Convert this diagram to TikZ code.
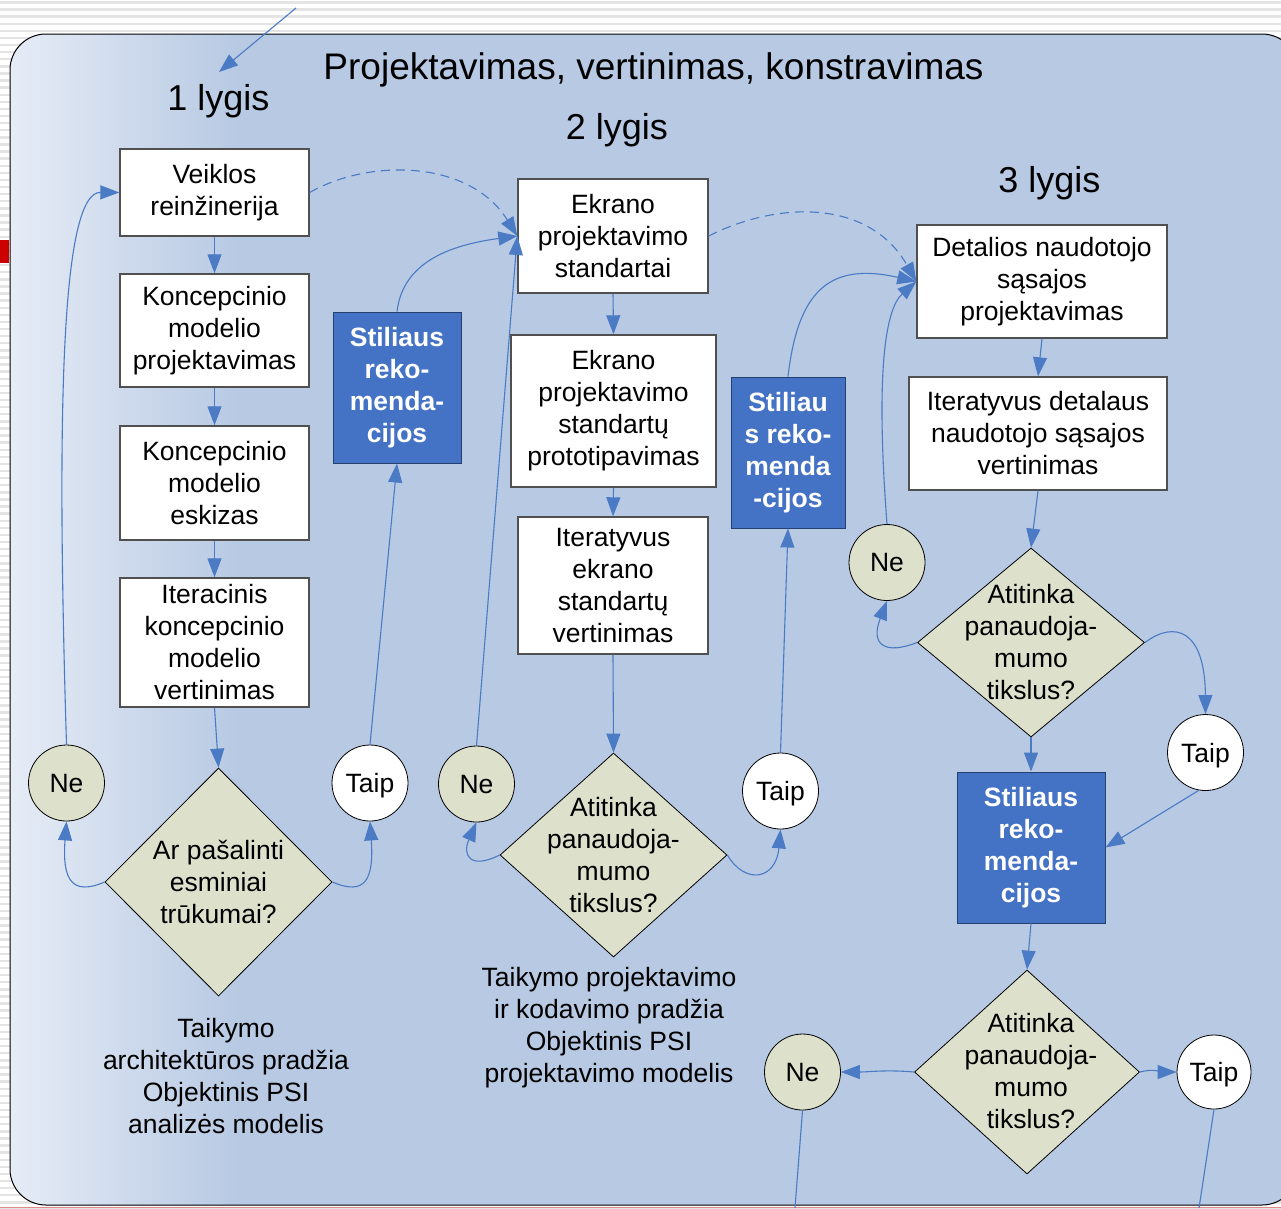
\documentclass[tikz,border=0pt]{standalone}
\usepackage{fontspec}
\setmainfont{Liberation Sans}
\usetikzlibrary{arrows.meta,shapes.geometric}

\definecolor{bgblue}{HTML}{B7C9E3}
\definecolor{bglight}{HTML}{E6ECF6}
\definecolor{stripegray}{HTML}{E4E4E4}
\definecolor{linecol}{HTML}{4A7BC4}
\definecolor{bluefill}{HTML}{4472C4}
\definecolor{bluedark}{HTML}{24406E}
\definecolor{olivefill}{HTML}{DDE1CC}
\definecolor{boxline}{HTML}{505050}
\definecolor{redmark}{HTML}{CC0000}
\definecolor{pinkline}{HTML}{E08A8A}

\newcommand{\fs}{\fontsize{26.5}{32}\selectfont}
\newcommand{\fb}{\fontsize{36}{40}\selectfont}

\begin{document}
\begin{tikzpicture}[x=1pt,y=-1pt,
  box/.style={draw=boxline, line width=1.4, fill=white, align=center, inner sep=0, font=\fs},
  bluebox/.style={draw=bluedark, line width=1, fill=bluefill, text=white, align=center, inner sep=0, font=\fs\bfseries},
  dia/.style={diamond, draw=black, line width=0.8, fill=olivefill, inner sep=0},
  dtext/.style={align=center, inner sep=0, font=\fs},
  nebubble/.style={circle, draw=black, line width=0.8, fill=olivefill, minimum size=76, inner sep=0, font=\fs},
  taipbubble/.style={circle, draw=black, line width=0.8, fill=white, minimum size=76, inner sep=0, font=\fs, text depth=0pt},
  conn/.style={draw=linecol, line width=1.1, -{Triangle[length=19pt,width=14pt]}},
  dconn/.style={conn, dash pattern=on 9pt off 6pt},
  plain/.style={draw=linecol, line width=1.1},
  lvl/.style={inner sep=0, font=\fb, text depth=0pt}
]
\useasboundingbox (0,0) rectangle (1281,1208);
\clip (0,0) rectangle (1281,1208);

% striped page background
\fill[white] (0,0) rectangle (1281,1208);
\foreach \i in {0,...,170} {
  \fill[stripegray] (0,\i*7.1+1.2) rectangle (1281,\i*7.1+3.6);
}
\fill[redmark] (0,240) rectangle (9,263);

% rounded panel with light left edge
\begin{scope}
  \clip[rounded corners=36] (10,34) rectangle (1298,1205);
  \fill[bgblue] (0,0) rectangle (1300,1208);
  \shade[left color=bglight, right color=bgblue] (10,34) rectangle (240,1205);
\end{scope}
\draw[black, line width=1, rounded corners=36] (10,34) rectangle (1298,1205);
\draw[pinkline, line width=1.6] (0,1207.3) -- (1281,1207.3);

% headings
\node[inner sep=0, font=\fontsize{37}{40}\selectfont, text depth=0pt] (title) at (653.5,66) {Projektavimas, vertinimas, konstravimas};
\node[lvl] (lvl1) at (218.5,97) {1 lygis};
\node[lvl] (lvl2) at (617,126) {2 lygis};
\node[lvl] (lvl3) at (1049.5,179) {3 lygis};

% level 1
\node[box, minimum width=189, minimum height=87] (b1) at (214.5,192.5) {Veiklos\\reinžinerija};
\node[box, minimum width=189, minimum height=113] (b2) at (214.5,330.5) {Koncepcinio\\modelio\\projektavimas};
\node[box, minimum width=189, minimum height=114] (b3) at (214.5,483) {Koncepcinio\\modelio\\eskizas};
\node[box, minimum width=189, minimum height=129] (b4) at (214.5,642.5) {Iteracinis\\koncepcinio\\modelio\\vertinimas};
\node[dia, minimum width=227, minimum height=228] (d1) at (218.5,882) {};
\node[dtext] (d1t) at (d1.center) {Ar pašalinti\\esminiai\\trūkumai?};
\node[nebubble] (n1) at (66.5,783) {Ne};
\node[taipbubble] (t1) at (370,783) {Taip};
\node[bluebox, minimum width=128, minimum height=151] (s1) at (397,387.5) {Stiliaus\\reko-\\menda-\\cijos};
\node[dtext] (c1) at (226,1076) {Taikymo\\architektūros pradžia\\Objektinis PSI\\analizės modelis};

% level 2
\node[box, minimum width=190, minimum height=114] (e1) at (613,236) {Ekrano\\projektavimo\\standartai};
\node[box, minimum width=205, minimum height=152] (e2) at (613.5,411) {Ekrano\\projektavimo\\standartų\\prototipavimas};
\node[box, minimum width=190, minimum height=137] (e3) at (613,585.5) {Iteratyvus\\ekrano\\standartų\\vertinimas};
\node[dia, minimum width=227, minimum height=204] (d2) at (613.5,855) {};
\node[dtext] (d2t) at (d2.center) {Atitinka\\panaudoja-\\mumo\\tikslus?};
\node[nebubble] (n2) at (476.5,784) {Ne};
\node[taipbubble] (t2) at (780.5,791) {Taip};
\node[bluebox, minimum width=114, minimum height=151] (s2) at (788,452.5) {Stiliau\\s reko-\\menda\\-cijos};
\node[dtext] (c2) at (609,1028) {Taikymo projektavimo\\ir kodavimo pradžia\\Objektinis PSI\\projektavimo modelis};

% level 3
\node[box, minimum width=250, minimum height=113] (f1) at (1042,281.5) {Detalios naudotojo\\sąsajos\\projektavimas};
\node[box, minimum width=258, minimum height=113] (f2) at (1038,433.5) {Iteratyvus detalaus\\naudotojo sąsajos\\vertinimas};
\node[dia, minimum width=227, minimum height=189] (d3) at (1031,642.5) {};
\node[dtext] (d3t) at (d3.center) {Atitinka\\panaudoja-\\mumo\\tikslus?};
\node[nebubble] (n3) at (887,562.5) {Ne};
\node[taipbubble] (t3) at (1205.5,752.5) {Taip};
\node[bluebox, minimum width=148, minimum height=151] (s3) at (1031,847.5) {Stiliaus\\reko-\\menda-\\cijos};
\node[dia, minimum width=225, minimum height=204] (d4) at (1027,1072) {};
\node[dtext] (d4t) at (1031,1071) {Atitinka\\panaudoja-\\mumo\\tikslus?};
\node[nebubble] (n4) at (802.5,1072) {Ne};
\node[taipbubble, minimum size=74] (t4) at (1214,1072) {Taip};

% free ends
\coordinate (entry) at (296,8);
\coordinate (entryEnd) at (219,72);
\coordinate (exitNe) at (795,1208);
\coordinate (exitTaip) at (1199,1208);

% connectors, level 1
\draw[conn] (entry) -- (entryEnd);
\draw[conn] (b1.south) -- (b2.north);
\draw[conn] (b2.south) -- (b3.north);
\draw[conn] (b3.south) -- (b4.north);
\draw[conn] (b4.south) -- (d1.north);
\draw[conn] (d1.west) .. controls (72,896) and (62,880) .. (n1.south);
\draw[conn] (d1.east) .. controls (365,896) and (374,880) .. (t1.south);
\draw[conn] (n1.north) .. controls (56,400) and (62,192) .. (b1.west);
\draw[conn] (t1.north) -- (s1.south);
\draw[conn] (s1.north) .. controls (403,262) and (450,245) .. (e1.west);
\draw[dconn] (b1.east) .. controls (370,158) and (470,160) .. (e1.west);

% connectors, level 2
\draw[conn] (e1.south) -- (e2.north);
\draw[conn] (e2.south) -- (e3.north);
\draw[conn] (e3.south) -- (d2.north);
\draw[conn] (d2.west) .. controls (470,870) and (462,855) .. (n2.south);
\draw[conn] (d2.east) .. controls (745,885) and (776,880) .. (t2.south);
\draw[conn] (n2.north) -- (e1.west);
\draw[conn] (t2.north) -- (s2.south);
\draw[conn] (s2.north) .. controls (798,290) and (830,262) .. (f1.west);
\draw[dconn] (e1.east) .. controls (780,200) and (870,200) .. (f1.west);

% connectors, level 3
\draw[conn] (f1.south) -- (f2.north);
\draw[conn] (f2.south) -- (d3.north);
\draw[conn] (n3.north) .. controls (876,380) and (884,310) .. (f1.west);
\draw[conn] (d3.west) .. controls (885,655) and (870,645) .. (n3.south);
\draw[conn] (d3.east) .. controls (1175,620) and (1205,630) .. (t3.north);
\draw[conn] (d3.south) -- (s3.north);
\draw[conn] (t3.-100) -- (s3.east);
\draw[conn] (s3.south) -- (d4.north);
\draw[conn] (d4.west) to[out=175, in=0] (n4.east);
\draw[conn] (d4.east) to[out=15, in=180] (t4.west);
\draw[plain] (n4.south) -- (exitNe);
\draw[plain] (t4.south) -- (exitTaip);
\end{tikzpicture}
\end{document}
